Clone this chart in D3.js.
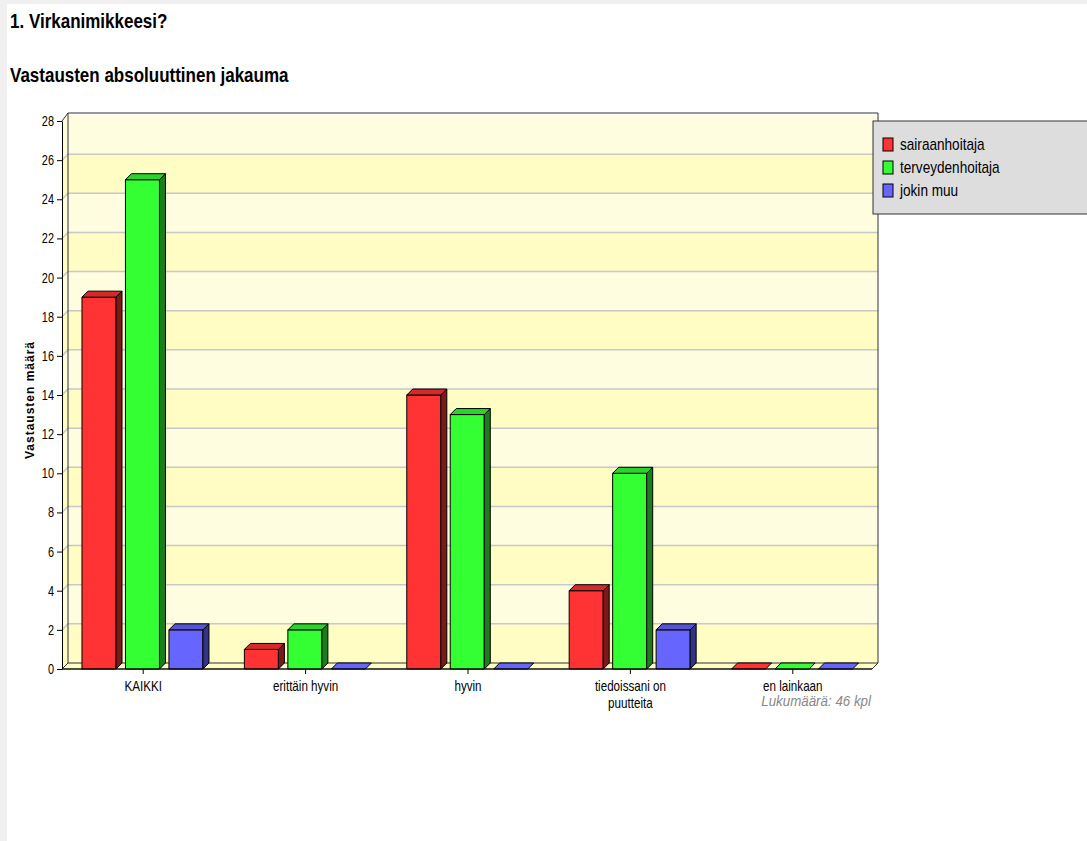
<!DOCTYPE html>
<html>
<head>
<meta charset="utf-8">
<script src="https://cdn.jsdelivr.net/npm/d3@7"></script>
<style>
    body { margin: 0; background: #f0f0f0; }
    #page { position: absolute; left: 7px; top: 4px; width: 1080px; height: 837px; background: #fff; }
    text { font-family: "Liberation Sans", Arial, sans-serif; }
</style>
</head>
<body>
<div id="page"></div>
<script>
var categories = ["KAIKKI", "erittäin hyvin", "hyvin", "tiedoissani on puutteita", "en lainkaan"];
var categoryLines = [["KAIKKI"], ["erittäin hyvin"], ["hyvin"], ["tiedoissani on", "puutteita"], ["en lainkaan"]];
var series = ["sairaanhoitaja", "terveydenhoitaja", "jokin muu"];
var sairaanhoitaja = [19, 1, 14, 4, 0];
var terveydenhoitaja = [25, 2, 13, 10, 0];
var jokinMuu = [2, 0, 0, 2, 0];
var yTicks = [0, 2, 4, 6, 8, 10, 12, 14, 16, 18, 20, 22, 24, 26, 28];

var values = [sairaanhoitaja, terveydenhoitaja, jokinMuu];
var colors = [
    { front: "#ff3333", top: "#d42a2a", side: "#7a1a1a" },
    { front: "#33ff33", top: "#2ad42a", side: "#1a7f1a" },
    { front: "#6666ff", top: "#5555d4", side: "#333388" }
];

var svgW = 1087, svgH = 841;
var dx = 6, dy = 6; // 3d depth offset
var plot = { left: 62, right: 874, top: 121, bottom: 669 };

var svg = d3.select("body")
    .append("svg")
    .attr("width", svgW)
    .attr("height", svgH)
    .style("position", "absolute")
    .style("left", 0)
    .style("top", 0);

// narrow font look: squeeze text horizontally around its anchor
function narrowText(parent, px, py, sx) {
    return parent.append("text")
        .attr("transform", "translate(" + px + "," + py + ") scale(" + sx + ",1)");
}

var x = d3.scaleBand()
    .domain(categories)
    .range([plot.left, plot.right]);
var xs = d3.scaleBand()
    .domain(series)
    .range([x.bandwidth() * 0.123, x.bandwidth() * 0.868])
    .paddingInner(0.217);
var y = d3.scaleLinear()
    .domain([0, 28])
    .range([plot.bottom, plot.top]);

// titles
narrowText(svg, 10, 28, 0.85)
    .style("font-size", "20px").style("font-weight", "bold")
    .text("1. Virkanimikkeesi?");
narrowText(svg, 10, 82, 0.85)
    .style("font-size", "20px").style("font-weight", "bold")
    .text("Vastausten absoluuttinen jakauma");

// walls: bands on back wall and left side wall
var bands = d3.range(yTicks.length - 1).map(function(i) {
    return [yTicks[i], yTicks[i + 1], i];
});
var bandColor = function(d) { return d[2] % 2 === 0 ? "#fffcc4" : "#fffde0"; };

svg.append("g").selectAll("rect")
    .data(bands)
    .enter()
    .append("rect")
    .attr("x", plot.left + dx)
    .attr("y", function(d) { return y(d[1]) - dy; })
    .attr("width", plot.right - plot.left - dx + 4)
    .attr("height", function(d) { return y(d[0]) - y(d[1]); })
    .attr("fill", bandColor);

svg.append("g").selectAll("path")
    .data(bands)
    .enter()
    .append("path")
    .attr("d", function(d) {
        return "M" + plot.left + "," + y(d[0]) + "L" + (plot.left + dx) + "," + (y(d[0]) - dy) +
            "L" + (plot.left + dx) + "," + (y(d[1]) - dy) + "L" + plot.left + "," + y(d[1]) + "Z";
    })
    .attr("fill", bandColor);

var wallR = plot.right + 4;
svg.append("g").selectAll("path")
    .data(yTicks.slice(1, -1))
    .enter()
    .append("path")
    .attr("d", function(d) {
        return "M" + plot.left + "," + y(d) + "L" + (plot.left + dx) + "," + (y(d) - dy) + "L" + wallR + "," + (y(d) - dy);
    })
    .attr("fill", "none")
    .attr("stroke", "#c8c8c8")
    .attr("stroke-width", 1.5);

// floor
svg.append("path")
    .attr("d", "M" + plot.left + "," + plot.bottom + "L" + (plot.left + dx) + "," + (plot.bottom - dy) +
        "L" + wallR + "," + (plot.bottom - dy) + "L" + (wallR - dx) + "," + plot.bottom + "Z")
    .attr("fill", "#fffcc4")
    .attr("stroke", "#333")
    .attr("stroke-width", 1);

// wall outline
svg.append("path")
    .attr("d", "M" + plot.left + "," + y(28) + "L" + (plot.left + dx) + "," + (y(28) - dy - 2) +
        "L" + wallR + "," + (y(28) - dy - 2) + "L" + wallR + "," + (plot.bottom - dy) +
        "M" + (plot.left + dx) + "," + (y(28) - dy - 2) + "L" + (plot.left + dx) + "," + (plot.bottom - dy))
    .attr("fill", "none")
    .attr("stroke", "#333")
    .attr("stroke-width", 1);

// bars
var bars = [];
categories.forEach(function(c, ci) {
    series.forEach(function(s, si) {
        bars.push({ cat: c, ser: s, si: si, v: values[si][ci] });
    });
});

var barG = svg.append("g")
    .selectAll("g")
    .data(bars)
    .enter()
    .append("g")
    .attr("stroke", "#000")
    .attr("stroke-width", 1)
    .attr("stroke-linejoin", "round");

function bx(d) { return x(d.cat) + xs(d.ser); }
var bw = xs.bandwidth();

barG.filter(function(d) { return d.v > 0; })
    .append("rect")
    .attr("x", bx)
    .attr("y", function(d) { return y(d.v); })
    .attr("width", bw)
    .attr("height", function(d) { return y(0) - y(d.v); })
    .attr("fill", function(d) { return colors[d.si].front; });

barG.filter(function(d) { return d.v > 0; })
    .append("path")
    .attr("d", function(d) {
        var x0 = bx(d) + bw, yt = y(d.v), yb = y(0);
        return "M" + x0 + "," + yt + "L" + (x0 + dx) + "," + (yt - dy) + "L" + (x0 + dx) + "," + (yb - dy) + "L" + x0 + "," + yb + "Z";
    })
    .attr("fill", function(d) { return colors[d.si].side; });

barG.append("path")
    .attr("d", function(d) {
        var x0 = bx(d), yt = y(d.v);
        return "M" + x0 + "," + yt + "L" + (x0 + dx) + "," + (yt - dy) + "L" + (x0 + bw + dx) + "," + (yt - dy) + "L" + (x0 + bw) + "," + yt + "Z";
    })
    .attr("fill", function(d) { return d.v > 0 ? colors[d.si].top : colors[d.si].front; });

// axes
var yAxis = d3.axisLeft(y).tickValues(yTicks).tickSize(5).tickSizeOuter(0).tickFormat("");
var yG = svg.append("g")
    .attr("transform", "translate(" + plot.left + ",0)")
    .call(yAxis);
yG.select(".domain").attr("stroke", "#000");
yG.selectAll(".tick line").attr("stroke", "#000");
yTicks.forEach(function(t) {
    narrowText(svg, 54, y(t) + 5, 0.78)
        .attr("text-anchor", "end")
        .style("font-size", "14px")
        .text(t);
});

svg.append("line")
    .attr("x1", plot.left).attr("x2", plot.right - 2)
    .attr("y1", plot.bottom).attr("y2", plot.bottom)
    .attr("stroke", "#000");

var xAxis = d3.axisBottom(x).tickSize(5).tickSizeOuter(0).tickFormat("");
var xG = svg.append("g")
    .attr("transform", "translate(0," + plot.bottom + ")")
    .call(xAxis);
xG.select(".domain").remove();
xG.selectAll(".tick line").attr("stroke", "#000");

categories.forEach(function(c, i) {
    categoryLines[i].forEach(function(line, j) {
        narrowText(svg, x(c) + x.bandwidth() / 2, 691 + j * 17, 0.83)
            .attr("text-anchor", "middle")
            .style("font-size", "14px")
            .text(line);
    });
});

narrowText(svg, 871, 706, 0.89)
    .attr("text-anchor", "end")
    .style("font-size", "15px")
    .style("font-style", "italic")
    .attr("fill", "#888")
    .text("Lukumäärä: 46 kpl");

svg.append("text")
    .attr("transform", "translate(34,400) rotate(-90)")
    .attr("text-anchor", "middle")
    .style("font-size", "12px")
    .style("font-weight", "bold")
    .style("letter-spacing", "1px")
    .text("Vastausten määrä");

// legend
var legend = svg.append("g");
legend.append("rect")
    .attr("x", 873).attr("y", 121)
    .attr("width", 230).attr("height", 93)
    .attr("fill", "#dddddd")
    .attr("stroke", "#333");
series.forEach(function(s, i) {
    legend.append("rect")
        .attr("x", 883).attr("y", 138 + i * 23)
        .attr("width", 10).attr("height", 13)
        .attr("fill", colors[i].front)
        .attr("stroke", "#000");
    narrowText(legend, 900, 150 + i * 23, 0.85)
        .style("font-size", "16px")
        .text(s);
});
</script>
</body>
</html>
